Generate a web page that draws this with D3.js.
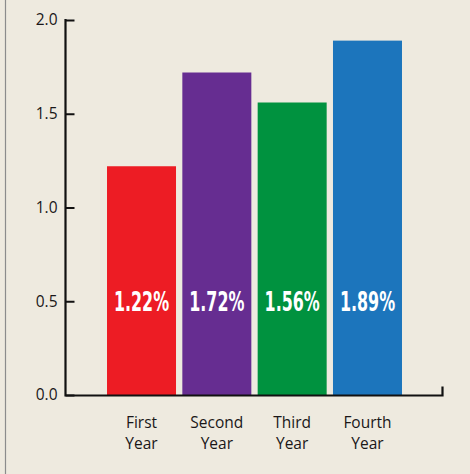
<!DOCTYPE html>
<html>
<head>
<meta charset="utf-8">
<script src="https://cdn.jsdelivr.net/npm/d3@7"></script>
<style>
  body { margin: 0; background: #eeeadf; }
  svg { display: block; }
</style>
</head>
<body>
<script>
// Chart data
const categories = ["First Year", "Second Year", "Third Year", "Fourth Year"];
const values = [1.22, 1.72, 1.56, 1.89];
const barLabels = ["1.22%", "1.72%", "1.56%", "1.89%"];
const barColors = ["#ed1c24", "#662d91", "#00923f", "#1c75bc"];
const yTicks = [0, 0.5, 1.0, 1.5, 2.0];

const width = 470, height = 474;

svg = d3.select("body")
        .append("svg")
        .attr("width", width)
        .attr("height", height);

// background + left border
svg.append("rect")
   .attr("width", width)
   .attr("height", height)
   .attr("fill", "#eeeadf");
svg.append("line")
   .attr("x1", 5.5).attr("x2", 5.5)
   .attr("y1", 0).attr("y2", height)
   .attr("stroke", "#8c8c8c")
   .attr("stroke-width", 1.2);

// scales
x = d3.scaleBand()
      .domain(categories)
      .range([103.85, 405.15])
      .paddingInner(0.084)
      .paddingOuter(0.042);

y = d3.scaleLinear()
      .domain([0, 2])
      .range([395, 20]);

const axisX = 65.5;

// bars
svg.selectAll(".bar")
   .data(values)
   .join("rect")
   .attr("class", "bar")
   .attr("x", (d, i) => x(categories[i]))
   .attr("y", d => y(d))
   .attr("width", x.bandwidth())
   .attr("height", d => y(0) - y(d))
   .attr("fill", (d, i) => barColors[i]);

// value labels inside the bars (squeezed horizontally to look condensed)
svg.selectAll(".bar-label")
   .data(barLabels)
   .join("text")
   .attr("class", "bar-label")
   .attr("transform", (d, i) =>
         `translate(${x(categories[i]) + x.bandwidth() / 2},${y(0.5) + 9.5}) scale(0.68,1)`)
   .attr("text-anchor", "middle")
   .attr("fill", "#ffffff")
   .style("font-family", "'DejaVu Sans Condensed', 'DejaVu Sans', sans-serif")
   .style("font-weight", "bold")
   .style("font-size", "26px")
   .text(d => d);

// y-axis (ticks point inward)
yAxis = svg.append("g")
   .attr("transform", `translate(${axisX},0)`)
   .call(d3.axisLeft(y)
           .tickValues(yTicks)
           .tickFormat(d3.format(".1f"))
           .tickSize(-9)
           .tickPadding(8));
yAxis.select(".domain").remove();
yAxis.selectAll(".tick line")
     .attr("stroke", "#111")
     .attr("stroke-width", 2);
yAxis.selectAll(".tick text")
     .attr("fill", "#1a1718")
     .style("font-family", "'Open Sans', sans-serif")
     .style("font-size", "15.5px");

// axis lines
svg.append("path")
   .attr("d", `M${axisX},19V395.5H442.5V386.5`)
   .attr("fill", "none")
   .attr("stroke", "#111")
   .attr("stroke-width", 2.2);

// x-axis category labels (two lines)
xLabels = svg.selectAll(".x-label")
   .data(categories)
   .join("text")
   .attr("class", "x-label")
   .attr("text-anchor", "middle")
   .attr("fill", "#1a1718")
   .style("font-family", "'Open Sans', sans-serif")
   .style("font-size", "15.5px");
xLabels.each(function(d) {
    const parts = d.split(" ");
    const cx = x(d) + x.bandwidth() / 2;
    d3.select(this).selectAll("tspan")
      .data(parts)
      .join("tspan")
      .attr("x", cx)
      .attr("y", (p, j) => 428 + j * 20.5)
      .text(p => p);
});
</script>
</body>
</html>
